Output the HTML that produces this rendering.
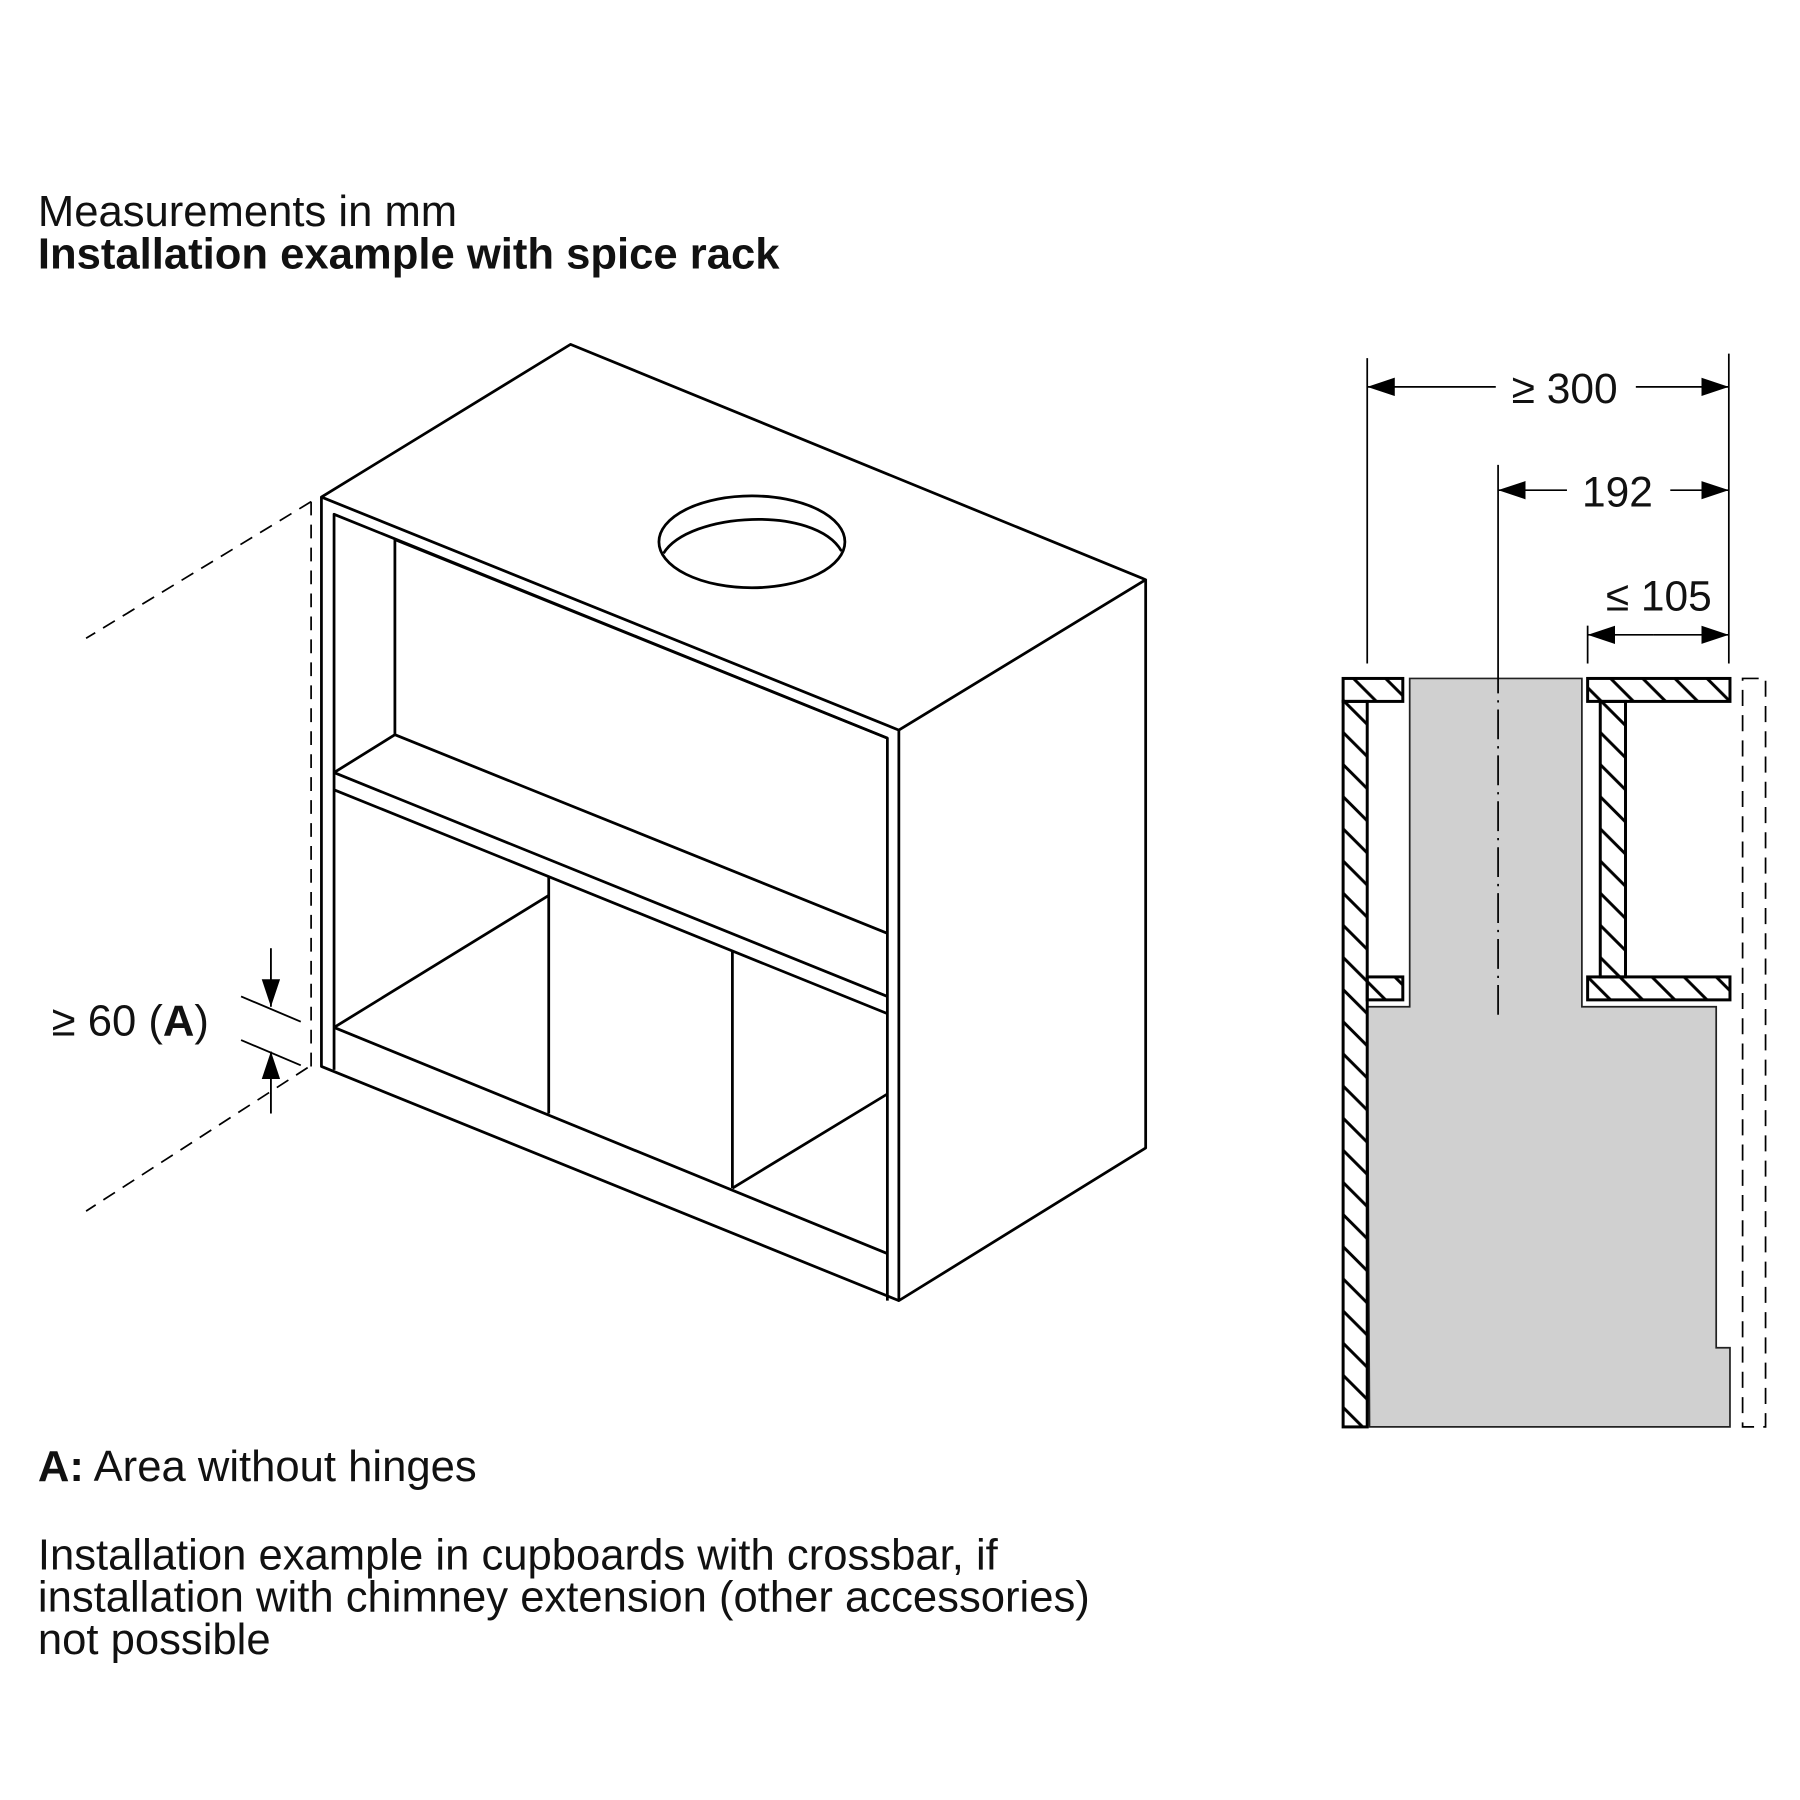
<!DOCTYPE html>
<html><head><meta charset="utf-8"><style>
html,body{margin:0;padding:0;background:#fff}
svg{display:block}
text{font-family:"Liberation Sans",Arial,sans-serif;fill:#111}
</style></head><body>
<svg width="1800" height="1800" viewBox="0 0 1568 1568" xmlns="http://www.w3.org/2000/svg">
<defs>
<pattern id="h" patternUnits="userSpaceOnUse" width="28" height="28">
<path d="M-7,-7 L35,35 M-7,21 L7,35 M21,-7 L35,7" stroke="#000" stroke-width="2.6"/>
</pattern>
<marker id="ar" viewBox="0 0 24 16" refX="24" refY="8" markerWidth="24" markerHeight="16" markerUnits="userSpaceOnUse" orient="auto">
<path d="M0,0 L24,8 L0,16 Z" fill="#000"/>
</marker>
</defs>
<text x="33" y="197" font-size="38">Measurements in mm</text>
<text x="33" y="234" font-size="38" font-weight="bold">Installation example with spice rack</text>

<g fill="none" stroke="#000" stroke-width="2.4" stroke-linejoin="round">
<path d="M280,433 L497,300 L998,505 L783,636 Z"/>
<path d="M783,636 L783,1133 L998,1000 L998,505"/>
<path d="M280,433 L280,929 L783,1133"/>
<ellipse cx="655" cy="472" rx="81" ry="40"/>
<path d="M578,482 C600,446 710,440 733,480"/>
<path d="M291,932 L291,448 L773,643 L773,1133"/>
<path d="M344,470 L773,643"/>
<path d="M344,470 L344,640 L291,673"/>
<path d="M344,640 L773,813"/>
<path d="M291,673 L773,868"/>
<path d="M291,688 L773,883"/>
<path d="M291,895 L773,1092"/>
<path d="M478,764 L478,970"/>
<path d="M478,780 L291,895"/>
<path d="M638,828 L638,1035"/>
<path d="M773,953 L638,1035"/>
</g>
<g fill="none" stroke="#000" stroke-width="1.5" stroke-dasharray="12,8">
<path d="M271,437 L271,930"/>
<path d="M271,437 L75,556"/>
<path d="M268,930 L75,1055"/>
</g>
<g stroke="#000" stroke-width="1.6" fill="none">
<path d="M210,868 L262,890"/>
<path d="M210,906 L262,928"/>
<path d="M236,826 L236,877" marker-end="url(#ar)"/>
<path d="M236,970 L236,916" marker-end="url(#ar)"/>
</g>
<text x="45" y="902" font-size="38">≥ 60 (<tspan font-weight="bold">A</tspan>)</text>

<g stroke="#000" stroke-width="1.5" fill="none">
<path d="M1191,312 L1191,578"/>
<path d="M1506,308 L1506,578"/>
<path d="M1305,405 L1305,578"/>
<path d="M1383,545 L1383,578"/>
<path d="M1303,337 L1191,337" marker-end="url(#ar)"/>
<path d="M1425,337 L1506,337" marker-end="url(#ar)"/>
<path d="M1365,427 L1305,427" marker-end="url(#ar)"/>
<path d="M1455,427 L1506,427" marker-end="url(#ar)"/>
<path d="M1440,553 L1383,553" marker-end="url(#ar)"/>
<path d="M1440,553 L1506,553" marker-end="url(#ar)"/>
</g>
<text x="1363" y="351" font-size="37" text-anchor="middle">≥ 300</text>
<text x="1409" y="441" font-size="37" text-anchor="middle">192</text>
<text x="1445" y="532" font-size="37" text-anchor="middle">≤ 105</text>

<path d="M1228,591 L1378,591 L1378,877 L1495,877 L1495,1174 L1507,1174 L1507,1243 L1193,1243 L1191,877 L1228,877 Z" fill="#d0d0d0" stroke="#222" stroke-width="1.5"/>
<g fill="url(#h)" stroke="#000" stroke-width="2.6">
<rect x="1170" y="591" width="52" height="20"/>
<rect x="1170" y="611" width="21" height="632"/>
<rect x="1191" y="851" width="31" height="20"/>
<rect x="1383" y="591" width="124" height="20"/>
<rect x="1394" y="611" width="22" height="240"/>
<rect x="1383" y="851" width="124" height="20"/>
</g>
<path d="M1305,578 L1305,885" stroke="#000" stroke-width="1.5" stroke-dasharray="26,6,2,6"/>
<path d="M1518,591 L1538,591 L1538,1243 L1518,1243 Z" fill="none" stroke="#000" stroke-width="1.5" stroke-dasharray="14,8"/>

<text x="33" y="1290" font-size="38"><tspan font-weight="bold">A:</tspan> Area without hinges</text>
<text x="33" y="1367" font-size="38">Installation example in cupboards with crossbar, if</text>
<text x="33" y="1404" font-size="38">installation with chimney extension (other accessories)</text>
<text x="33" y="1441" font-size="38">not possible</text>
</svg>
</body></html>
